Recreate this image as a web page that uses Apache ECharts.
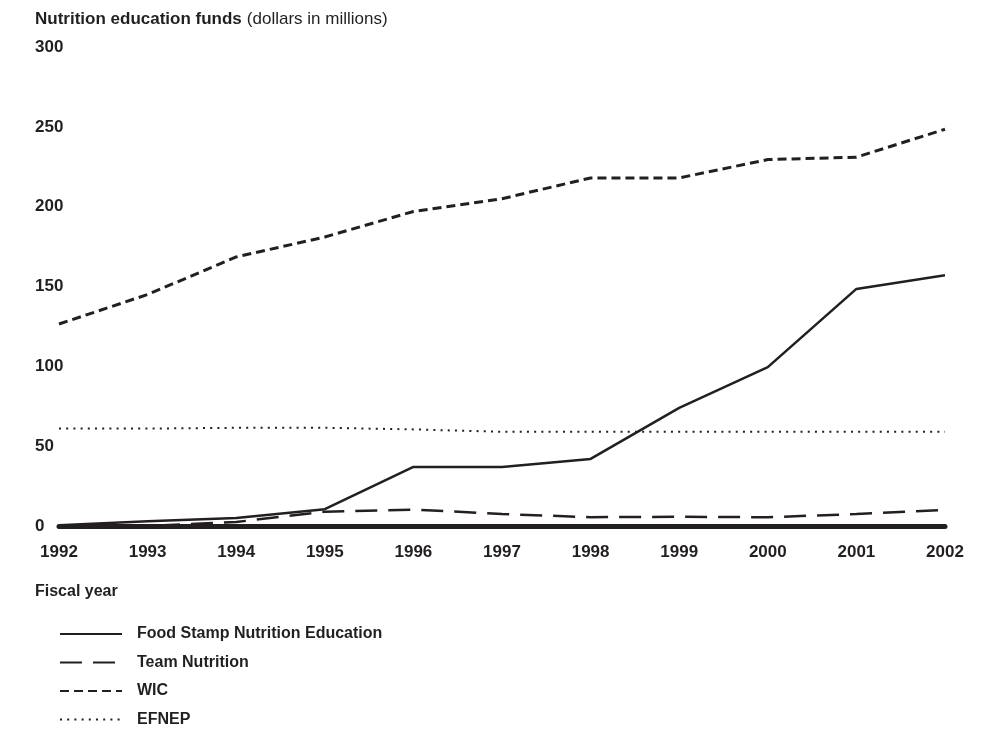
<!DOCTYPE html>
<html>
<head>
<meta charset="utf-8">
<script src="https://cdn.jsdelivr.net/npm/echarts@6/dist/echarts.min.js"></script>
<style>html,body{margin:0;padding:0;background:#fff}#c{width:982px;height:731px}</style>
</head>
<body>
<div id="c"></div>
<script>
const years = ['1992','1993','1994','1995','1996','1997','1998','1999','2000','2001','2002'];
const foodStamp = [0.5, 3, 5, 10.5, 37, 37, 42, 74, 99.5, 148.5, 157];
const teamNutrition = [0, 0, 2.5, 9, 10.3, 7.5, 5.5, 5.8, 5.5, 7.5, 10];
const wic = [126.5, 145, 168.5, 181, 197, 205, 218, 218, 229.5, 231, 248.5];
const efnep = [61, 61, 61.5, 61.5, 60.5, 59, 59, 59, 59, 59, 59];
const yTicks = [0, 50, 100, 150, 200, 250, 300];

const ink = '#231f20';
const font = 'Liberation Sans, Arial, Helvetica, sans-serif';
const chart = echarts.init(document.getElementById('c'));
chart.setOption({
  animation: false,
  title: {
    left: 35, top: 10, padding: 0,
    text: '{b|Nutrition education funds} {n|(dollars in millions)}',
    textStyle: {
      rich: {
        b: {fontFamily: font, fontWeight: 'bold', fontSize: 17, color: ink},
        n: {fontFamily: font, fontWeight: 'normal', fontSize: 17, color: ink}
      }
    }
  },
  grid: {left: 59, right: 37, top: 47, bottom: 205, containLabel: false},
  xAxis: {
    type: 'category', data: years, boundaryGap: false,
    name: 'Fiscal year', nameLocation: 'start', nameGap: 0,
    nameTextStyle: {fontFamily: font, fontWeight: 'bold', fontSize: 16, color: ink, align: 'left', verticalAlign: 'top', padding: [58, 0, 0, -24]},
    axisLine: {show: true, lineStyle: {color: ink, width: 5}},
    axisTick: {show: false},
    axisLabel: {fontFamily: font, fontWeight: 'bold', fontSize: 17, color: ink, margin: 18}
  },
  yAxis: {
    type: 'value', min: 0, max: 300, interval: 50,
    axisLine: {show: false}, axisTick: {show: false}, splitLine: {show: false},
    axisLabel: {fontFamily: font, fontWeight: 'bold', fontSize: 17, color: ink, align: 'left', margin: 24,
      formatter: v => yTicks.includes(v) ? String(v) : ''}
  },
  legend: {
    orient: 'vertical', left: 59, top: 626, padding: 0, itemWidth: 62, itemHeight: 14, itemGap: 12.5,
    itemStyle: {color: 'transparent', borderColor: 'transparent', borderWidth: 0, opacity: 0},
    textStyle: {fontFamily: font, fontWeight: 'bold', fontSize: 16, color: ink, padding: [0, 0, 0, 10]},
    data: ['Food Stamp Nutrition Education', 'Team Nutrition', 'WIC', 'EFNEP']
  },
  series: [
    {name: 'Food Stamp Nutrition Education', type: 'line', data: foodStamp, symbol: 'none', z: 4,
      lineStyle: {color: ink, width: 2.5, type: 'solid'}, itemStyle: {color: ink}},
    {name: 'Team Nutrition', type: 'line', data: teamNutrition, symbol: 'none', z: 3,
      lineStyle: {color: ink, width: 2.5, type: [22, 11]}, itemStyle: {color: ink}},
    {name: 'WIC', type: 'line', data: wic, symbol: 'none', z: 3,
      lineStyle: {color: ink, width: 3, type: [9, 5]}, itemStyle: {color: ink}},
    {name: 'EFNEP', type: 'line', data: efnep, symbol: 'none', z: 3,
      lineStyle: {color: ink, width: 2, type: [2, 5.2]}, itemStyle: {color: ink}}
  ]
});
</script>
</body>
</html>
